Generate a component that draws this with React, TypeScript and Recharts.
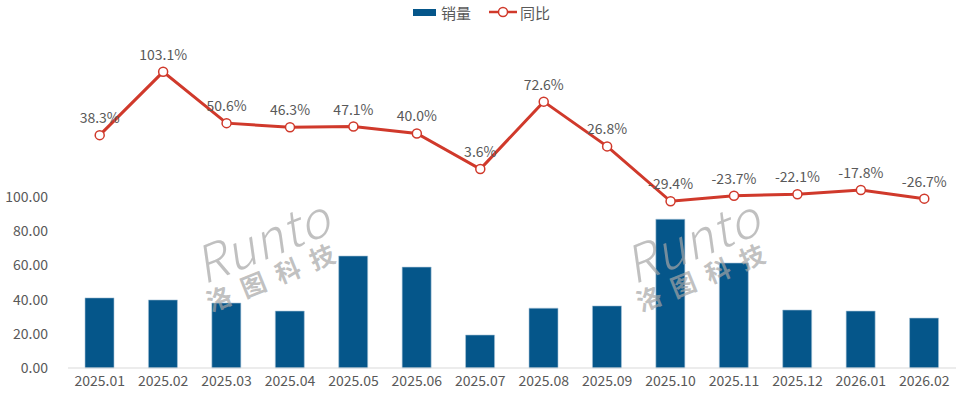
import { Bar, ComposedChart, LabelList, Line, XAxis, YAxis } from "recharts";

const months = [
  "2025.01", "2025.02", "2025.03", "2025.04", "2025.05", "2025.06", "2025.07",
  "2025.08", "2025.09", "2025.10", "2025.11", "2025.12", "2026.01", "2026.02",
];
const sales = [41, 39.8, 38, 33.3, 65.5, 59, 19.3, 35, 36.3, 87, 61.4, 33.9, 33.3, 29.2];
const yoy = [38.3, 103.1, 50.6, 46.3, 47.1, 40.0, 3.6, 72.6, 26.8, -29.4, -23.7, -22.1, -17.8, -26.7];
const leftTicks = [0, 20, 40, 60, 80, 100];
const boundaryTicks = [0, 1, 2, 3, 4, 5, 6, 7, 8, 9, 10, 11, 12, 13, 14];

const BLUE = "#05568A";
const RED = "#D0392B";
const TEXT = "#595959";
const FONT = "'Noto Sans CJK SC', 'Noto Sans', sans-serif";

const data = months.map((month, i) => ({ month, sales: sales[i], yoy: yoy[i], idx: i + 0.5 }));

function Watermark({ left, top }: { left: number; top: number }) {
  return (
    <div
      style={{
        position: "absolute",
        left,
        top,
        transform: "rotate(-22deg)",
        color: "rgba(165,165,165,0.7)",
        fontFamily: FONT,
        pointerEvents: "none",
        lineHeight: 1,
        textAlign: "center",
      }}
    >
      <div style={{ fontSize: 50, fontStyle: "italic", fontWeight: 300, letterSpacing: 1 }}>Runto</div>
      <div style={{ fontSize: 25, fontWeight: 700, letterSpacing: 12, marginTop: 2 }}>洛图科技</div>
    </div>
  );
}

export default function App() {
  return (
    <div style={{ position: "absolute", left: 0, top: 0, width: 960, height: 394, background: "#fff", fontFamily: FONT }}>
      <div
        style={{
          position: "absolute",
          top: 2,
          left: 413,
          display: "flex",
          alignItems: "center",
          fontSize: 15,
          color: TEXT,
          height: 20,
        }}
      >
        <span style={{ width: 23, height: 7, background: BLUE, display: "inline-block", marginRight: 5 }} />
        <span style={{ marginRight: 18 }}>销量</span>
        <svg width={28} height={12} style={{ marginRight: 3 }}>
          <line x1={0} y1={6} x2={28} y2={6} stroke={RED} strokeWidth={2.5} />
          <circle cx={14} cy={6} r={4.5} fill="#fff" stroke={RED} strokeWidth={1.5} />
        </svg>
        <span>同比</span>
      </div>
      <ComposedChart width={960} height={394} data={data} margin={{ top: 26, right: 4, left: 0, bottom: 0 }}>
        <XAxis
          dataKey="month"
          xAxisId="cat"
          height={26}
          tickLine={false}
          axisLine={{ stroke: "#D9D9D9" }}
          tick={{ fill: TEXT, fontSize: 14, fontFamily: FONT }}
          interval={0}
        />
        <XAxis
          dataKey="idx"
          xAxisId="edge"
          type="number"
          domain={[0, 14]}
          ticks={boundaryTicks}
          height={0}
          axisLine={false}
          tickLine={{ stroke: "#D9D9D9" }}
          tickSize={5}
          tickFormatter={() => ""}
        />
        <YAxis
          yAxisId="left"
          width={68}
          domain={[0, 200]}
          ticks={leftTicks}
          tickLine={false}
          axisLine={false}
          tickMargin={14}
          tickFormatter={(v: number) => v.toFixed(2)}
          tick={{ fill: TEXT, fontSize: 14, fontFamily: FONT }}
        />
        <YAxis yAxisId="right" orientation="right" domain={[-200, 150]} hide />
        <Bar
          dataKey="sales"
          xAxisId="cat"
          yAxisId="left"
          fill={BLUE}
          stroke="#A9C4D8"
          strokeWidth={0.6}
          barSize={29}
          isAnimationActive={false}
        />
        <Line
          dataKey="yoy"
          xAxisId="cat"
          yAxisId="right"
          stroke={RED}
          strokeWidth={3}
          dot={{ r: 4.5, fill: "#fff", stroke: RED, strokeWidth: 1.5 }}
          activeDot={false}
          isAnimationActive={false}
        >
          <LabelList
            dataKey="yoy"
            position="top"
            offset={12}
            formatter={(v: number) => `${v.toFixed(1)}%`}
            style={{ fill: TEXT, fontSize: 14, fontFamily: FONT }}
          />
        </Line>
      </ComposedChart>
      <Watermark left={192} top={212} />
      <Watermark left={622} top={212} />
    </div>
  );
}
